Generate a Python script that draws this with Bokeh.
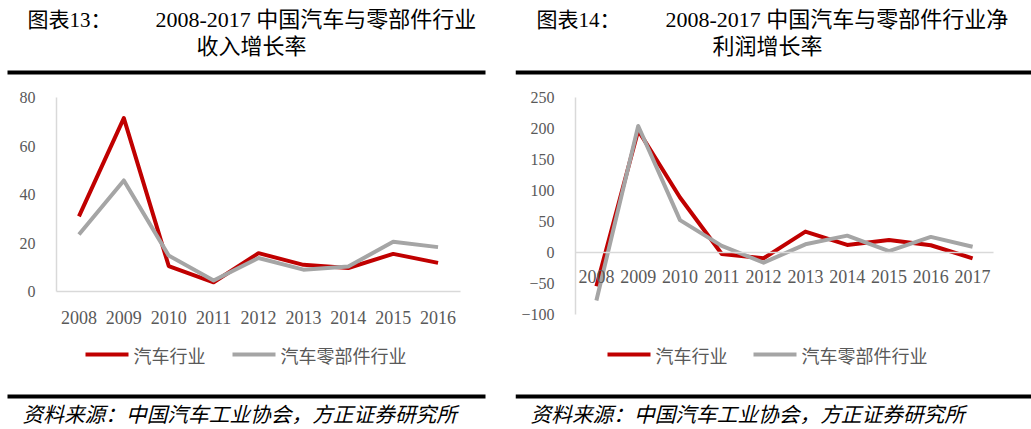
from bokeh.plotting import figure
from bokeh.layouts import row
from bokeh.models import Range1d, FixedTicker
from bokeh.core.properties import value
from bokeh.embed import file_html
from bokeh.resources import INLINE

# ---------------- data ----------------
years_rev = [2008, 2009, 2010, 2011, 2012, 2013, 2014, 2015, 2016]
auto_rev = [31, 71.5, 10.5, 3.8, 15.8, 11.0, 9.7, 15.5, 11.8]
parts_rev = [23.5, 45.8, 14.8, 4.5, 13.8, 9.0, 10.3, 20.5, 18.3]
rev_ticks = [0, 20, 40, 60, 80]

years_prof = [2008, 2009, 2010, 2011, 2012, 2013, 2014, 2015, 2016, 2017]
auto_prof = [-54, 197, 89, -2, -9, 34, 12.5, 20.5, 12, -9]
parts_prof = [-77, 204, 52.5, 11, -16, 13.5, 27.5, 2.5, 25.5, 9.5]
prof_ticks = [-100, -50, 0, 50, 100, 150, 200, 250]

series_names = ["汽车行业", "汽车零部件行业"]
fig_labels = ["图表13：", "图表14："]
title_l1 = ["2008-2017 中国汽车与零部件行业", "2008-2017 中国汽车与零部件行业净"]
title_l2 = ["收入增长率", "利润增长率"]
source_text = "资料来源：中国汽车工业协会，方正证券研究所"

RED = "#C00000"
GRAY = "#A5A5A5"
AXIS = "#D9D9D9"
TXT = "#595959"
SERIF_CJK = "Liberation Serif, Noto Sans CJK SC"
CJK = "Noto Sans CJK SC"

H = 429


def panel(W, years, red_vals, gray_vals, ticks, fl, fr, y_top_px, y_bot_px, x_std, idx, lay):
    """Frame covers the whole canvas; fl/fr = pixel extent of the category band,
    y_top_px / y_bot_px = pixel rows of the highest / lowest y tick."""
    n = len(years)
    ppx = (fr - fl) / n                     # px per year
    x0 = years[0] - 0.5 - fl / ppx          # data x at pixel 0
    x1 = x0 + W / ppx
    t_hi, t_lo = ticks[-1], ticks[0]
    ppy = (y_bot_px - y_top_px) / (t_hi - t_lo)
    y_hi = t_hi + y_top_px / ppy
    y_lo = y_hi - H / ppy

    p = figure(width=W, height=H, x_range=Range1d(x0, x1), y_range=Range1d(y_lo, y_hi),
               toolbar_location=None, output_backend="svg", min_border=0)
    p.outline_line_color = None
    p.grid.visible = False

    p.line(x=years, y=red_vals, line_color=RED, line_width=4, line_join="round")
    p.line(x=years, y=gray_vals, line_color=GRAY, line_width=4, line_join="round")

    for ax in (p.xaxis[0], p.yaxis[0]):
        ax.axis_line_color = AXIS
        ax.axis_line_width = 1.5
        ax.major_tick_line_color = None
        ax.minor_tick_line_color = None
        ax.major_label_text_font = "Liberation Serif"
        ax.major_label_text_color = TXT
    p.xaxis.ticker = FixedTicker(ticks=years)
    p.xaxis.major_label_overrides = {yr: str(yr) for yr in years}
    p.xaxis.fixed_location = 0
    p.xaxis.bounds = (years[0] - 0.5, years[-1] + 0.5)
    p.xaxis.major_label_text_font_size = "18px"
    p.xaxis.major_label_standoff = x_std

    p.yaxis.ticker = FixedTicker(ticks=ticks)
    p.yaxis.fixed_location = years[0] - 0.5
    p.yaxis.bounds = (t_lo, t_hi)
    p.yaxis.major_label_text_font_size = "16px"
    p.yaxis.major_label_standoff = 15

    def dx(px):
        return x0 + px / ppx

    def dy(py):
        return y_hi - py / ppy

    def text(px, py, s, font, size, color="black", align="left", style="normal"):
        p.text(x=[dx(px)], y=[dy(py)], text=[s], text_font=value(font),
               text_font_size=size, text_color=color, text_align=align,
               text_baseline="middle", text_font_style=style)

    def rule(px0, px1, py, color):
        p.segment(x0=[dx(px0)], y0=[dy(py)], x1=[dx(px1)], y1=[dy(py)],
                  line_color=color, line_width=4)

    # header
    text(lay["lab"], 19, fig_labels[idx], SERIF_CJK, "21px")
    text(lay["t1"], 19, title_l1[idx], SERIF_CJK, "22px")
    text(lay["t2"], 46, title_l2[idx], SERIF_CJK, "22px", align="center")
    rule(lay["r0"], lay["r1"], 72, "black")
    # legend
    rule(lay["red"], lay["red"] + 43, 354, RED)
    text(lay["red"] + 48, 354, series_names[0], CJK, "18px", color=TXT)
    rule(lay["gray"], lay["gray"] + 43, 354, GRAY)
    text(lay["gray"] + 48, 354, series_names[1], CJK, "18px", color=TXT)
    # footer
    rule(lay["r0"], lay["r1"], 396, "black")
    text(lay["src"], 412, source_text, CJK, "20.7px", style="italic")
    return p


left = panel(515, years_rev, auto_rev, parts_rev, rev_ticks, 56, 460, 97, 291, 13, 0,
             dict(lab=27, t1=155, t2=251, r0=7, r1=485, red=85, gray=232, src=22))
right = panel(516, years_prof, auto_prof, parts_prof, prof_ticks, 60, 478, 97, 314.3, 11, 1,
              dict(lab=21, t1=150, t2=252, r0=0, r1=516, red=92, gray=238, src=15))

layout = row(left, right)

with open("out.html", "w") as fh:
    fh.write(file_html(layout, INLINE))
